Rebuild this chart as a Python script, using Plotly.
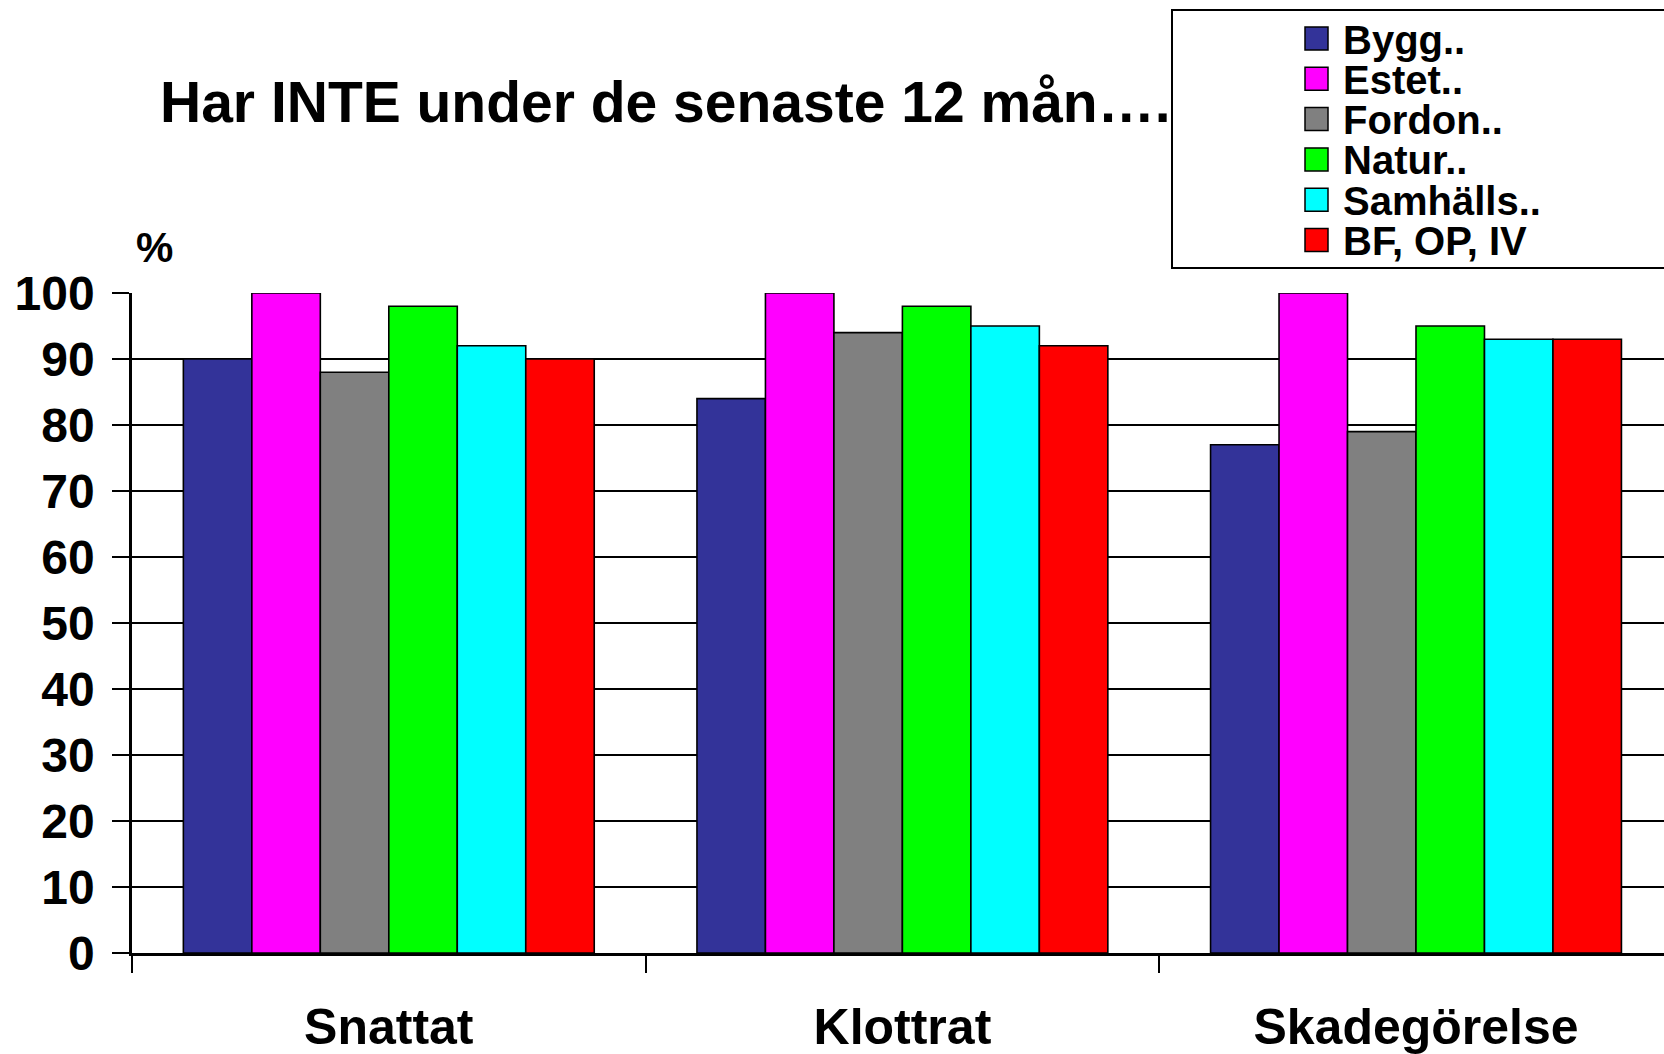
import plotly.graph_objects as go

categories = ["Snattat", "Klottrat", "Skadegörelse"]
series_names = ["Bygg..", "Estet..", "Fordon..", "Natur..", "Samhälls..", "BF, OP, IV"]
series_values = {
    "Bygg..": [90, 84, 77],
    "Estet..": [100, 100, 100],
    "Fordon..": [88, 94, 79],
    "Natur..": [98, 98, 95],
    "Samhälls..": [92, 95, 93],
    "BF, OP, IV": [90, 92, 93],
}
series_colors = ["#333399", "#FF00FF", "#808080", "#00FF00", "#00FFFF", "#FF0000"]
y_ticks = list(range(0, 101, 10))
title_text = "Har INTE under de senaste 12 mån…."
unit_label = "%"

W, H = 1664, 1054
L, R, T, B = 132, 0, 293, H - 953
FONT = "Liberation Sans, Arial, sans-serif"

def px_x(px):
    return (px - L) / (W - L - R)

def px_y(py):
    return (H - B - py) / (H - T - B)

fig = go.Figure()
for name, color in zip(series_names, series_colors):
    fig.add_trace(go.Bar(
        x=categories, y=series_values[name], name=name,
        marker=dict(color=color, line=dict(color="black", width=1.6)),
        showlegend=False,
    ))

# manual legend built from the series lists
shapes = [dict(type="rect", xref="paper", yref="paper",
               x0=px_x(1172), x1=px_x(1700), y0=px_y(10), y1=px_y(268),
               line=dict(color="black", width=2), fillcolor="rgba(0,0,0,0)")]
annotations = []
for i, (name, color) in enumerate(zip(series_names, series_colors)):
    cy = 38.5 + 40.3 * i
    shapes.append(dict(type="rect", xref="paper", yref="paper",
                       x0=px_x(1305), x1=px_x(1328), y0=px_y(cy + 11.5), y1=px_y(cy - 11.5),
                       line=dict(color="black", width=1.5), fillcolor=color))
    annotations.append(dict(xref="paper", yref="paper", x=px_x(1341), y=px_y(cy + 1),
                            text=f"<b>{name}</b>", showarrow=False, xanchor="left", yanchor="middle",
                            font=dict(family=FONT, size=40, color="black")))

annotations.append(dict(xref="paper", yref="paper", x=px_x(158), y=px_y(102),
                        text=f"<b>{title_text}</b>", showarrow=False, xanchor="left", yanchor="middle",
                        font=dict(family=FONT, size=57, color="black")))
annotations.append(dict(xref="paper", yref="paper", x=px_x(154), y=px_y(247),
                        text=f"<b>{unit_label}</b>", showarrow=False, xanchor="center", yanchor="middle",
                        font=dict(family=FONT, size=42, color="black")))

fig.update_layout(
    width=W, height=H,
    margin=dict(l=L, r=R, t=T, b=B, autoexpand=False),
    paper_bgcolor="white", plot_bgcolor="white",
    barmode="group", bargap=0.2, bargroupgap=0,
    shapes=shapes, annotations=annotations,
    showlegend=False,
    font=dict(family=FONT, color="black"),
)
fig.update_xaxes(
    type="category", range=[-0.5, -0.5 + (W - L - R) / 513.6],
    tickson="boundaries", ticks="outside", ticklen=17, tickwidth=2, tickcolor="black",
    showline=True, linecolor="black", linewidth=2.5, showgrid=False,
    tickfont=dict(family=FONT, size=50, color="black"),
    ticklabelstandoff=28,
    tickprefix="<b>", ticksuffix="</b>",
)
fig.update_yaxes(
    range=[0, 100], tickvals=y_ticks, ticktext=[f"<b>{v}</b>" for v in y_ticks],
    ticks="outside", ticklen=17, tickwidth=2, tickcolor="black",
    showline=True, linecolor="black", linewidth=2.5,
    showgrid=True, gridcolor="black", gridwidth=2,
    zeroline=False,
    tickfont=dict(family=FONT, size=48, color="black"),
    ticklabelstandoff=8,
)
fig.write_html(
    "out.html",
    config={"displayModeBar": False},
    post_script="document.body.style.margin='0';document.body.style.overflow='hidden';",
)
